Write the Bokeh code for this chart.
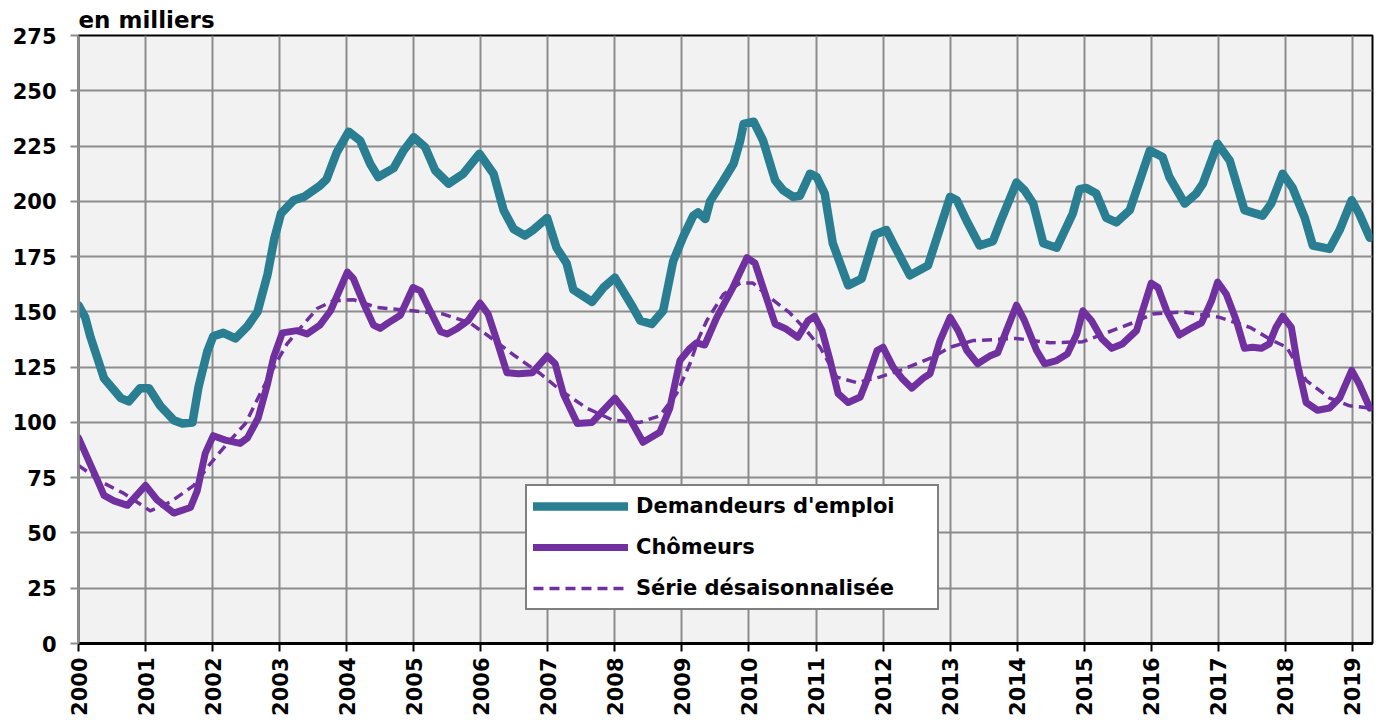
import math
from bokeh.plotting import figure
from bokeh.models import FixedTicker, Legend, LegendItem, Range1d
from bokeh.embed import file_html
from bokeh.resources import INLINE

# ---- data (in thousands) ----
years = list(range(2000, 2020))
y_ticks = list(range(0, 276, 25))

dem_x = [2000.0, 2000.1, 2000.18, 2000.38, 2000.63, 2000.75, 2000.92, 2001.05, 2001.22, 2001.42,
         2001.55, 2001.7, 2001.79, 2001.92, 2002.01, 2002.16, 2002.34, 2002.52, 2002.67, 2002.82,
         2002.92, 2003.02, 2003.21, 2003.36, 2003.6, 2003.7, 2003.85, 2004.03, 2004.2, 2004.35,
         2004.47, 2004.7, 2004.85, 2005.0, 2005.17, 2005.32, 2005.52, 2005.74, 2005.98, 2006.19,
         2006.34, 2006.49, 2006.66, 2006.78, 2006.99, 2007.13, 2007.28, 2007.38, 2007.66, 2007.83,
         2008.0, 2008.18, 2008.27, 2008.38, 2008.55, 2008.72, 2008.87, 2009.02, 2009.17, 2009.24,
         2009.35, 2009.42, 2009.62, 2009.77, 2009.87, 2009.92, 2010.07, 2010.21, 2010.39, 2010.51,
         2010.66, 2010.76, 2010.91, 2011.01, 2011.13, 2011.25, 2011.48, 2011.68, 2011.88, 2012.05,
         2012.15, 2012.4, 2012.67, 2013.0, 2013.1, 2013.25, 2013.44, 2013.64, 2013.74, 2013.99,
         2014.11, 2014.24, 2014.39, 2014.59, 2014.83, 2014.93, 2015.03, 2015.18, 2015.33, 2015.48,
         2015.68, 2015.98, 2016.17, 2016.27, 2016.5, 2016.67, 2016.77, 2016.99, 2017.17, 2017.39,
         2017.66, 2017.79, 2017.96, 2018.11, 2018.29, 2018.41, 2018.66, 2018.81, 2018.99, 2019.1,
         2019.26]
dem_y = [153, 147.5, 138.5, 120, 111, 109.5, 115.5, 115.5, 107.5, 101,
         99.5, 100, 116, 132, 139, 140.5, 138, 143.5, 150, 167,
         183, 194.5, 200.5, 202, 207, 210, 222, 231.5, 227.5, 217,
         211, 215, 223, 229, 224.5, 214, 208, 212.5, 221.5, 212.5,
         196, 187.5, 184.5, 187, 192.5, 179, 172, 160, 154.5, 161,
         165.5, 156.5, 152, 146, 144.5, 150.5, 173, 184, 193.5, 195,
         192, 200, 209.5, 217, 227.5, 235, 236, 227.5, 209.5, 205,
         202, 202.5, 212.5, 211, 203.5, 181, 162, 165, 185, 187,
         181, 166.5, 171, 202, 200.5, 191, 180, 182, 190, 208.5,
         205, 199, 181, 179, 194.5, 205.5, 206, 203.5, 192.5, 190.5,
         196, 223, 220, 211, 199, 203.5, 208, 226, 218.5, 196,
         193.5, 199, 212.5, 206, 192.5, 180, 178.5, 187, 200.5, 194.5,
         183.5]

cho_x = [2000.0, 2000.28, 2000.38, 2000.53, 2000.73, 2001.0, 2001.17, 2001.42, 2001.67, 2001.77,
         2001.89, 2002.01, 2002.19, 2002.41, 2002.52, 2002.68, 2002.82, 2002.91, 2003.04, 2003.26,
         2003.41, 2003.6, 2003.76, 2004.01, 2004.1, 2004.25, 2004.4, 2004.5, 2004.62, 2004.8,
         2004.99, 2005.1, 2005.22, 2005.4, 2005.5, 2005.65, 2005.81, 2005.99, 2006.11, 2006.24,
         2006.39, 2006.56, 2006.77, 2006.99, 2007.11, 2007.23, 2007.44, 2007.66, 2007.83, 2008.0,
         2008.18, 2008.42, 2008.67, 2008.82, 2008.97, 2009.12, 2009.22, 2009.34, 2009.52, 2009.76,
         2009.97, 2010.09, 2010.21, 2010.39, 2010.54, 2010.73, 2010.88, 2010.98, 2011.09, 2011.21,
         2011.33, 2011.48, 2011.66, 2011.77, 2011.91, 2012.0, 2012.15, 2012.28, 2012.43, 2012.6,
         2012.7, 2012.85, 2013.0, 2013.12, 2013.25, 2013.41, 2013.59, 2013.71, 2013.84, 2013.99,
         2014.11, 2014.29, 2014.41, 2014.59, 2014.75, 2014.89, 2014.98, 2015.11, 2015.26, 2015.41,
         2015.57, 2015.78, 2015.87, 2016.0, 2016.1, 2016.23, 2016.42, 2016.62, 2016.75, 2016.9,
         2016.99, 2017.12, 2017.27, 2017.39, 2017.51, 2017.64, 2017.76, 2017.86, 2017.96, 2018.09,
         2018.18, 2018.31, 2018.48, 2018.66, 2018.81, 2018.99, 2019.1, 2019.26]
cho_y = [93, 74, 67, 64.5, 62.5, 71.5, 65, 59, 61.5, 69,
         86, 94, 92, 90.5, 93, 102, 117.5, 129.5, 140.5, 141.5,
         140, 144, 150.5, 168, 165, 154, 144, 142.5, 145, 148.5,
         161, 159.5, 152, 141, 140, 142.5, 146, 154, 149, 137,
         122.5, 122, 122.5, 130, 126.5, 113, 99.5, 100, 105.5, 111,
         104, 91, 95.5, 106.5, 128, 133.5, 136, 135, 147.5, 161,
         174.5, 172, 161, 144.5, 142.5, 138.5, 146, 148, 141.5, 128,
         113, 109, 111.5, 120, 132.5, 134, 125, 120, 115.5, 120,
         122, 137, 147.5, 141.5, 132.5, 126.5, 130, 131.5, 141.5, 153,
         146, 132.5, 126.5, 128, 131, 140, 150.5, 146, 138, 133.5,
         135.5, 141.5, 150.5, 163, 161, 150.5, 139.5, 143, 145, 155,
         163.5, 158, 146, 133.5, 134, 133.5, 135.5, 143, 148, 143,
         126.5, 109, 105.5, 106.5, 111, 123.5, 117.5, 106.5]

cvs_x = [2000.0, 2000.38, 2000.67, 2001.07, 2001.37, 2001.72, 2001.97, 2002.22, 2002.49, 2002.71,
         2002.94, 2003.11, 2003.36, 2003.56, 2003.8, 2004.1, 2004.45, 2004.99, 2005.44, 2005.84,
         2006.14, 2006.49, 2006.89, 2007.19, 2007.58, 2007.97, 2008.37, 2008.67, 2008.92, 2009.12,
         2009.25, 2009.37, 2009.62, 2009.87, 2010.06, 2010.31, 2010.61, 2010.86, 2011.06, 2011.31,
         2011.61, 2011.95, 2012.3, 2012.74, 2013.0, 2013.34, 2013.99, 2014.49, 2014.98, 2015.33,
         2015.72, 2016.02, 2016.47, 2017.02, 2017.47, 2017.81, 2018.02, 2018.31, 2018.66, 2018.96,
         2019.26]
cvs_y = [80.5, 72.5, 68, 60, 64, 71.5, 81.5, 90.5, 99.5, 113,
         126.5, 135.5, 144.5, 151.5, 155, 155.5, 152, 150.5, 149, 145,
         138.5, 130.5, 122, 114.5, 106.5, 101, 100, 103, 113, 126.5,
         138, 146, 158, 163, 163, 156.5, 149.5, 141.5, 134, 120.5,
         118, 120.5, 124, 129.5, 134, 137, 138, 136, 136.5, 140.5,
         145, 149, 150, 147.5, 143, 137, 134, 119, 111, 107.5,
         106.5]

series_names = ["Demandeurs d'emploi", "Chômeurs", "Série désaisonnalisée"]

TEAL = "#2A7E91"
PURPLE = "#7030A0"
GRID = "#8C8C8C"
FONT = "DejaVu Sans"

p = figure(frame_width=1294, frame_height=608,
           x_range=Range1d(2000, 2019.3), y_range=Range1d(0, 275),
           output_backend="svg", toolbar_location=None,
           min_border_left=78, min_border_right=4, min_border_top=35, min_border_bottom=60,
           background_fill_color="#F2F2F2", border_fill_color="white")

p.title.text = "en milliers"
p.title.align = "left"
p.title.text_font = FONT
p.title.text_font_size = "23px"
p.title.text_font_style = "bold"
p.title.text_color = "black"
p.title.standoff = 5
p.title.offset = 0

p.outline_line_color = "black"
p.outline_line_width = 2

# grids
p.xgrid.ticker = FixedTicker(ticks=years)
p.ygrid.ticker = FixedTicker(ticks=y_ticks)
for g in (p.xgrid[0], p.ygrid[0]):
    g.grid_line_color = GRID
    g.grid_line_width = 2

# x axis
xa = p.xaxis[0]
xa.ticker = FixedTicker(ticks=years)
xa.major_label_orientation = math.pi / 2
xa.axis_line_color = "black"
xa.axis_line_width = 3
xa.major_tick_line_color = "black"
xa.major_tick_line_width = 2
xa.major_tick_out = 8
xa.major_tick_in = 0
xa.minor_tick_line_color = None
xa.major_label_standoff = 6
xa.major_label_text_font = FONT
xa.major_label_text_font_size = "21px"
xa.major_label_text_font_style = "bold"
xa.major_label_text_color = "black"

# y axis
ya = p.yaxis[0]
ya.ticker = FixedTicker(ticks=y_ticks)
ya.axis_line_color = GRID
ya.axis_line_width = 2
ya.major_tick_line_color = GRID
ya.major_tick_line_width = 2
ya.major_tick_out = 8
ya.major_tick_in = 0
ya.minor_tick_line_color = None
ya.major_label_standoff = 14
ya.major_label_text_font = FONT
ya.major_label_text_font_size = "21px"
ya.major_label_text_font_style = "bold"
ya.major_label_text_color = "black"

r_dem = p.line(dem_x, dem_y, line_color=TEAL, line_width=8.5,
               line_join="round", line_cap="round")
r_cho = p.line(cho_x, cho_y, line_color=PURPLE, line_width=7,
               line_join="round", line_cap="round")
r_cvs = p.line(cvs_x, cvs_y, line_color=PURPLE, line_width=3.5, line_dash="10 6",
               line_join="round")

legend = Legend(items=[LegendItem(label=series_names[0], renderers=[r_dem]),
                       LegendItem(label=series_names[1], renderers=[r_cho]),
                       LegendItem(label=series_names[2], renderers=[r_cvs])],
                location=(447, 33))
legend.border_line_color = "black"
legend.border_line_width = 2
legend.background_fill_color = "white"
legend.background_fill_alpha = 1.0
legend.padding = 6
legend.margin = 0
legend.spacing = 13
legend.glyph_width = 95
legend.glyph_height = 28
legend.label_height = 28
legend.label_width = 295
legend.label_standoff = 8
legend.label_text_font = FONT
legend.label_text_font_size = "21px"
legend.label_text_font_style = "bold"
legend.label_text_color = "black"
legend.label_text_baseline = "middle"
p.add_layout(legend, "center")

open("out.html", "w").write(file_html(p, INLINE))
